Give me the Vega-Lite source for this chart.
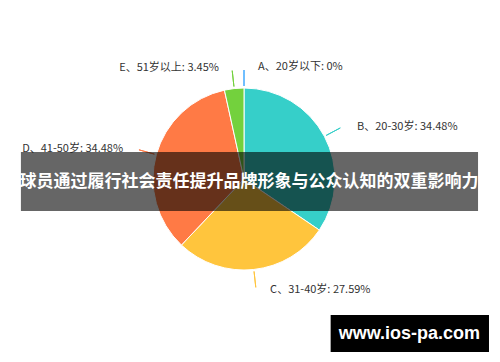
{
  "$schema": "https://vega.github.io/schema/vega-lite/v6.json",
  "width": 500,
  "height": 362,
  "autosize": {"type": "fit", "contains": "padding"},
  "padding": {"left": 0, "top": 0, "right": 10, "bottom": 4},
  "background": "white",
  "view": {"stroke": null},
  "config": {"font": "Noto Sans CJK SC"},
  "datasets": {
    "ages": [
      {"group": "A、20岁以下", "pct": 0, "label": "A、20岁以下: 0%"},
      {"group": "B、20-30岁", "pct": 34.48, "label": "B、20-30岁: 34.48%"},
      {"group": "C、31-40岁", "pct": 27.59, "label": "C、31-40岁: 27.59%"},
      {"group": "D、41-50岁", "pct": 34.48, "label": "D、41-50岁: 34.48%"},
      {"group": "E、51岁以上", "pct": 3.45, "label": "E、51岁以上: 3.45%"}
    ],
    "overlay": [
      {"title": "球员通过履行社会责任提升品牌形象与公众认知的双重影响力", "site": "www.ios-pa.com"}
    ]
  },
  "layer": [
    {
      "data": {"name": "ages"},
      "mark": {"type": "arc", "outerRadius": 91, "stroke": "white", "strokeWidth": 1},
      "encoding": {
        "theta": {"field": "pct", "type": "quantitative", "stack": true},
        "order": {"field": "group", "type": "nominal", "sort": "ascending"},
        "color": {
          "field": "group",
          "type": "nominal",
          "legend": null,
          "scale": {
            "domain": ["A、20岁以下", "B、20-30岁", "C、31-40岁", "D、41-50岁", "E、51岁以上"],
            "range": ["#40A9FF", "#36CFC9", "#FFC53D", "#FF7A45", "#73D13D"]
          }
        }
      }
    },
    {
      "data": {"name": "ages"},
      "mark": {"type": "arc", "innerRadius": 93, "outerRadius": 109, "padAngle": 3, "fillOpacity": 0, "strokeWidth": 1},
      "encoding": {
        "theta": {"field": "pct", "type": "quantitative", "stack": true},
        "order": {"field": "group", "type": "nominal", "sort": "ascending"},
        "stroke": {
          "field": "group",
          "type": "nominal",
          "legend": null,
          "scale": {
            "domain": ["A、20岁以下", "B、20-30岁", "C、31-40岁", "D、41-50岁", "E、51岁以上"],
            "range": ["#40A9FF", "#36CFC9", "#FFC53D", "#FF7A45", "#73D13D"]
          }
        }
      }
    },
    {
      "data": {"name": "ages"},
      "mark": {"type": "text", "radius": 112, "align": "left", "dx": 14, "fontSize": 11, "color": "#333333", "baseline": "middle"},
      "encoding": {
        "theta": {"field": "pct", "type": "quantitative", "stack": true},
        "order": {"field": "group", "type": "nominal", "sort": "ascending"},
        "text": {
          "condition": {"test": "substring(datum.group, 0, 1) == 'A' || substring(datum.group, 0, 1) == 'B' || substring(datum.group, 0, 1) == 'C'", "field": "label"},
          "value": ""
        }
      }
    },
    {
      "data": {"name": "ages"},
      "mark": {"type": "text", "radius": 112, "align": "right", "dx": -13, "fontSize": 11, "color": "#333333", "baseline": "middle"},
      "encoding": {
        "theta": {"field": "pct", "type": "quantitative", "stack": true},
        "order": {"field": "group", "type": "nominal", "sort": "ascending"},
        "text": {
          "condition": {"test": "substring(datum.group, 0, 1) == 'D' || substring(datum.group, 0, 1) == 'E'", "field": "label"},
          "value": ""
        }
      }
    },
    {
      "data": {"name": "overlay"},
      "mark": {"type": "rect", "color": "black", "opacity": 0.6},
      "encoding": {
        "x": {"datum": 21, "type": "quantitative", "scale": {"domain": [0, 490], "nice": false, "zero": false}, "axis": null},
        "x2": {"datum": 480},
        "y": {"datum": 152, "type": "quantitative", "scale": {"domain": [0, 358], "nice": false, "zero": false, "reverse": true}, "axis": null},
        "y2": {"datum": 211}
      }
    },
    {
      "data": {"name": "overlay"},
      "mark": {"type": "text", "color": "white", "fontSize": 17, "fontWeight": "bold", "align": "center", "baseline": "middle"},
      "encoding": {
        "x": {"datum": 250, "type": "quantitative"},
        "y": {"datum": 182, "type": "quantitative"},
        "text": {"field": "title"}
      }
    },
    {
      "data": {"name": "overlay"},
      "mark": {"type": "rect", "color": "black", "opacity": 1},
      "encoding": {
        "x": {"datum": 332, "type": "quantitative"},
        "x2": {"datum": 491},
        "y": {"datum": 315, "type": "quantitative"},
        "y2": {"datum": 352}
      }
    },
    {
      "data": {"name": "overlay"},
      "mark": {"type": "text", "color": "white", "fontSize": 18, "fontWeight": "bold", "font": "Liberation Sans", "align": "center", "baseline": "middle"},
      "encoding": {
        "x": {"datum": 411, "type": "quantitative"},
        "y": {"datum": 334, "type": "quantitative"},
        "text": {"field": "site"}
      }
    }
  ]
}
